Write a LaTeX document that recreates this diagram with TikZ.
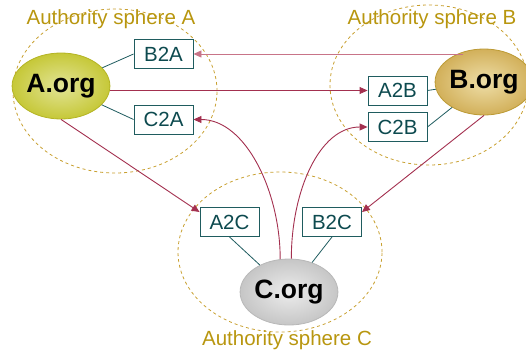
\documentclass[tikz,border=0pt]{standalone}
\usepackage{fontspec}
\setmainfont{Liberation Sans}
\usetikzlibrary{shapes.geometric,arrows.meta}
\definecolor{gold}{HTML}{B8960F}
\definecolor{sphline}{HTML}{C8A030}
\definecolor{teal2}{HTML}{1F5C5F}
\definecolor{tealtext}{HTML}{0D4A4F}
\definecolor{crim}{HTML}{A3304F}
\definecolor{crimlight}{HTML}{C87488}
\definecolor{aborder}{HTML}{B4B424}
\definecolor{ain}{RGB}{226,228,150}
\definecolor{aout}{RGB}{198,200,56}
\definecolor{bborder}{HTML}{BC9A34}
\definecolor{bin}{RGB}{238,222,168}
\definecolor{bout}{RGB}{210,176,90}
\definecolor{cborder}{HTML}{B8B8B8}
\definecolor{cin}{RGB}{236,236,236}
\definecolor{cout}{RGB}{198,198,198}
\tikzset{
  sphere/.style={ellipse, draw=sphline, dashed, line width=0.8pt, inner sep=0pt},
  sphlabel/.style={text=gold, font=\fontsize{20.5}{22}\selectfont, inner sep=0pt},
  org/.style={ellipse, inner sep=0pt, minimum width=89pt, minimum height=66pt, line width=0.8pt,
    font=\fontsize{26.5}{28}\selectfont\bfseries, text=black},
  box/.style={draw=teal2, line width=0.9pt, fill=white, minimum width=59pt, minimum height=29pt,
    inner sep=0pt, text=tealtext, font=\fontsize{20.5}{22}\selectfont},
  link/.style={draw=teal2, line width=0.8pt},
  arr/.style={draw=crim, line width=0.9pt, -{Triangle[length=8pt,width=7pt]}},
}
\begin{document}
\begin{tikzpicture}[x=1pt,y=-1pt]
\useasboundingbox (0,0) rectangle (526,356);
% spheres
\node[sphere, minimum width=204pt, minimum height=164pt] (SA) at (115,91) {};
\node[sphere, minimum width=198pt, minimum height=160pt] (SB) at (429,85) {};
\node[sphere, minimum width=204pt, minimum height=160pt] (SC) at (280,252) {};
\node[sphlabel] (LA) at (111,19) {Authority sphere A};
\node[sphlabel] (LB) at (432,19) {Authority sphere B};
\node[sphlabel] (LC) at (287,340) {Authority sphere C};
% boxes
\node[box] (B2A) at (163.5,54) {B2A};
\node[box] (C2A) at (163.5,119.5) {C2A};
\node[box] (A2B) at (397.5,90.5) {A2B};
\node[box] (C2B) at (397.5,127) {C2B};
\node[box] (A2C) at (229.5,222) {A2C};
\node[box] (B2C) at (332,222) {B2C};
% orgs
\node[org, draw=aborder, inner color=ain, outer color=aout] (A) at (61,86) {A.org};
\node[org, draw=bborder, inner color=bin, outer color=bout, minimum width=85pt] (B) at (484,82) {B.org};
\node[org, draw=cborder, inner color=cin, outer color=cout] (C) at (289,292) {C.org};
% teal links
\draw[link] (A) -- (B2A.west);
\draw[link] (A) -- (C2A.west);
\draw[link] (A2B.east) -- (B);
\draw[link] (C2B.east) -- (B);
\draw[link] (A2C.south) -- (C);
\draw[link] (B2C.south) -- (C);
% arrows
\draw[arr, draw=crimlight, shorten <=21pt] (B2A.east -| B) -- (B2A.east);
\draw[arr] (A2B.west -| A.east) -- (A2B.west);
\draw[arr] (A.south) -- ([yshift=-5pt]A2C.north west);
\draw[arr] (B.south) -- ([yshift=-5pt]B2C.north east);
\draw[arr] (C.105) .. controls +(0,-68) and +(52,0) .. (C2A.east);
\draw[arr] (C.86) .. controls +(0,-68) and +(-48,0) .. (C2B.west);
\end{tikzpicture}
\end{document}
